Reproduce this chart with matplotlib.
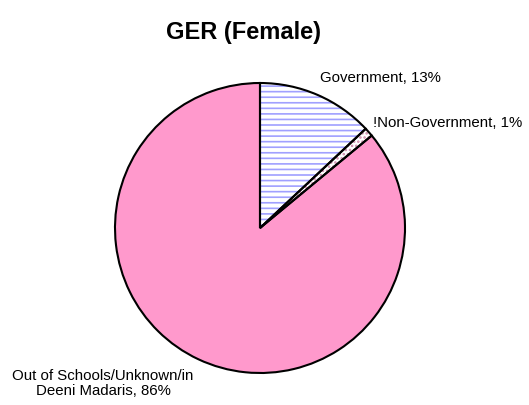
import matplotlib
matplotlib.use("Agg")
import matplotlib.pyplot as plt

labels = ["Government, 13%", "!Non-Government, 1%", "Out of Schools/Unknown/in\nDeeni Madaris, 86%"]
values = [13, 1, 86]
title = "GER (Female)"

plt.rcParams['font.family'] = ['Liberation Sans', 'DejaVu Sans']
plt.rcParams['hatch.linewidth'] = 1.2

fig = plt.figure(figsize=(5.29, 4.06), dpi=100)
ax = fig.add_axes([0, 0, 1, 1])

center = (260, 406 - 229)
radius = 145

fills = ['white', 'white', '#FF99CC']
hatches = ['---', '....', None]
hatch_colors = ['#A0A0FF', '#CC88AA', '#FF99CC']

# hatched fill layer
wedges, _ = ax.pie(values, startangle=90, counterclock=False, center=center,
                   radius=radius, colors=fills,
                   wedgeprops=dict(linewidth=0), frame=True)
for w, h, hc in zip(wedges, hatches, hatch_colors):
    if h:
        w.set_hatch(h)
        w.set_edgecolor(hc)
# outline layer
ax.pie(values, startangle=90, counterclock=False, center=center,
       radius=radius, colors=['none'] * 3,
       wedgeprops=dict(linewidth=1.5, edgecolor='black', fill=False), frame=True)
ax.set_xlim(0, 529)
ax.set_ylim(0, 406)
ax.axis('off')

fs = 10.8
ax.text(320, 406 - 78, labels[0], fontsize=fs, ha='left', va='center')
ax.text(373, 406 - 123, labels[1], fontsize=fs, ha='left', va='center')
ax.text(103, 406 - 383.5, labels[2], fontsize=fs, ha='center', va='center', linespacing=1.05)
ax.text(243.5, 406 - 32, title, fontsize=17, fontweight='bold', ha='center', va='center')

fig.savefig("out.png", dpi=100)
